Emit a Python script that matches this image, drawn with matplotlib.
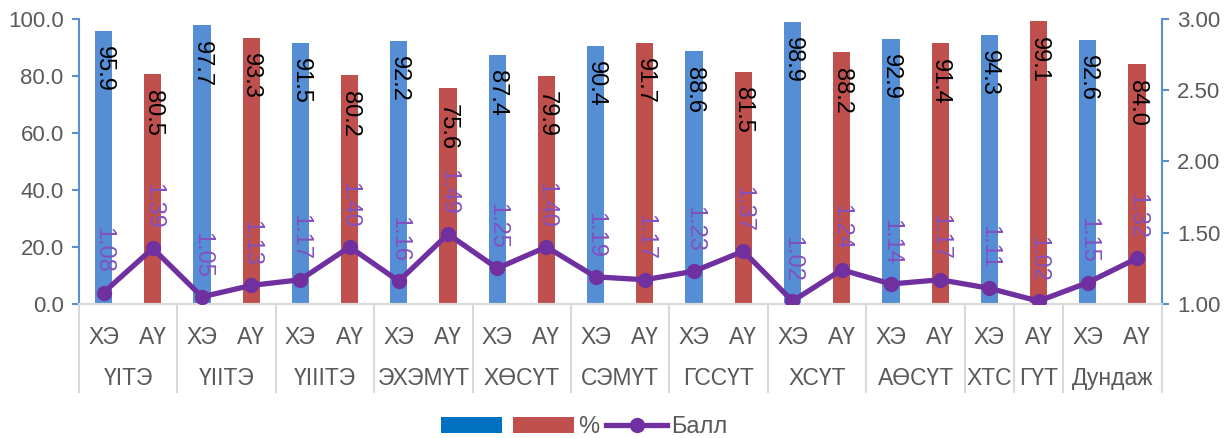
import matplotlib
matplotlib.use("Agg")
import matplotlib.pyplot as plt
import matplotlib.transforms as mtransforms
from matplotlib.patches import Patch
from matplotlib.lines import Line2D

plt.rcParams['font.family'] = ['Liberation Sans', 'DejaVu Sans']

# хувь (%) ба балл, ангилал бүрээр
groups = ['ҮІТЭ', 'ҮІІТЭ', 'ҮІІІТЭ', 'ЭХЭМҮТ', 'ХӨСҮТ', 'СЭМҮТ', 'ГССҮТ',
          'ХСҮТ', 'АӨСҮТ', 'ХТС', 'ГҮТ', 'Дундаж']
sub_labels = ['ХЭ', 'АҮ', 'ХЭ', 'АҮ', 'ХЭ', 'АҮ', 'ХЭ', 'АҮ', 'ХЭ', 'АҮ',
              'ХЭ', 'АҮ', 'ХЭ', 'АҮ', 'ХЭ', 'АҮ', 'ХЭ', 'АҮ', 'ХЭ', 'АҮ',
              'ХЭ', 'АҮ']
group_sizes = [2, 2, 2, 2, 2, 2, 2, 2, 2, 1, 1, 2]
percent = [95.9, 80.5, 97.7, 93.3, 91.5, 80.2, 92.2, 75.6, 87.4, 79.9, 90.4,
           91.7, 88.6, 81.5, 98.9, 88.2, 92.9, 91.4, 94.3, 99.1, 92.6, 84.0]
score = [1.08, 1.39, 1.05, 1.13, 1.17, 1.40, 1.16, 1.49, 1.25, 1.40, 1.19,
         1.17, 1.23, 1.37, 1.02, 1.24, 1.14, 1.17, 1.11, 1.02, 1.15, 1.32]

blue = '#558ED5'
red = '#C0504D'
purple = '#7030A0'
label_purple = '#8350C0'
axis_blue = '#5B8FD0'
grey_txt = '#595959'
sep_grey = '#D9D9D9'

fig = plt.figure(figsize=(12.24, 4.38), dpi=100)
ax = fig.add_axes([0.0645, 0.306, 0.8845, 0.651])
ax2 = ax.twinx()

x = list(range(len(percent)))
colors = [blue if s == 'ХЭ' else red for s in sub_labels]
bars = ax.bar(x, percent, width=0.35, color=colors, zorder=2)
for xi, v in zip(x, percent):
    ax.annotate(f'{v:.1f}', (xi, v), xytext=(0, -11), textcoords='offset points',
                ha='center', va='top', rotation=270, fontsize=17, color='black',
                zorder=3)

ax.set_xlim(-0.5, len(x) - 0.5)
ax.set_ylim(0, 100)
ax.set_yticks([0, 20, 40, 60, 80, 100])
ax.set_yticklabels([f'{t:.1f}' for t in [0, 20, 40, 60, 80, 100]])
ax.set_xticks([])

ax2.plot(x, score, color=purple, lw=3.8, marker='o', markersize=10, zorder=4)
for xi, v in zip(x, score):
    ax2.annotate(f'{v:.2f}', (xi, v), xytext=(0, 14), textcoords='offset points',
                 ha='center', va='bottom', rotation=270, fontsize=17,
                 color=label_purple, zorder=5)
ax2.set_ylim(1.0, 3.0)
ax2.set_yticks([1.0, 1.5, 2.0, 2.5, 3.0])
ax2.set_yticklabels([f'{t:.2f}' for t in [1.0, 1.5, 2.0, 2.5, 3.0]])

for a in (ax, ax2):
    a.spines['top'].set_visible(False)
    a.spines['bottom'].set_color(sep_grey)
    a.spines['bottom'].set_linewidth(1.5)
    a.tick_params(axis='y', colors=axis_blue, labelcolor=grey_txt,
                  labelsize=16, length=5, width=1.5, pad=6)
ax.spines['left'].set_color(axis_blue)
ax.spines['left'].set_linewidth(1.5)
ax.spines['right'].set_visible(False)
ax2.spines['left'].set_visible(False)
ax2.spines['right'].set_color(axis_blue)
ax2.spines['right'].set_linewidth(1.5)
ax2.set_zorder(ax.get_zorder() + 1)
ax2.patch.set_visible(False)

# хоёр түвшний ангиллын шошго
trans = mtransforms.blended_transform_factory(ax.transData, ax.transAxes)
for xi, s in zip(x, sub_labels):
    ax.text(xi, -0.116, s, transform=trans, ha='center', va='center',
            fontsize=16.5, color=grey_txt)
start = 0
bounds = [-0.5]
for g, n in zip(groups, group_sizes):
    center = start + (n - 1) / 2
    ax.text(center, -0.26, g, transform=trans, ha='center', va='center',
            fontsize=16.5, color=grey_txt)
    start += n
    bounds.append(start - 0.5)
for b in bounds:
    ax.plot([b, b], [0, -0.31], transform=trans, color=sep_grey, lw=1.5,
            clip_on=False, zorder=1)

handles = [Patch(facecolor='#0070C0'), Patch(facecolor=red),
           Line2D([], [], color=purple, lw=3.8, marker='o', markersize=10)]
fig.legend(handles, ['', '%', 'Балл'], loc='center', bbox_to_anchor=(0.477, 0.025),
           ncol=3, frameon=False, fontsize=17, handlelength=2.6,
           handletextpad=0.15, columnspacing=0.3, labelcolor=grey_txt)

fig.savefig('out.png', dpi=100)
